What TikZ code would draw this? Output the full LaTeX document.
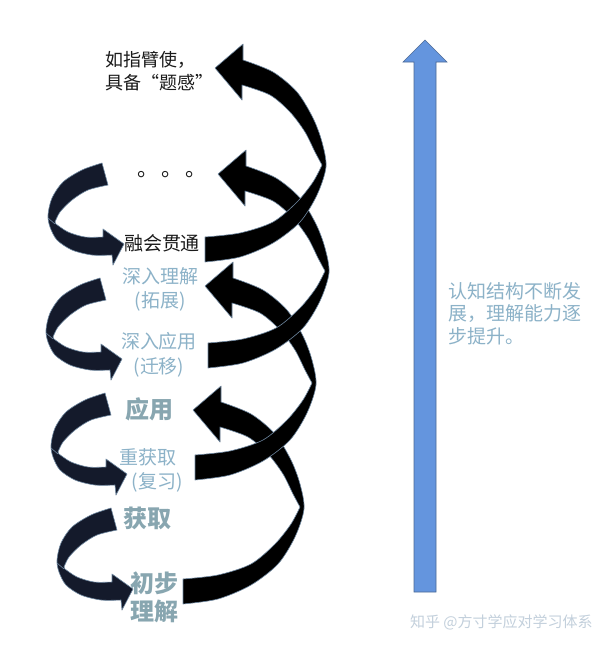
\documentclass[tikz,border=0pt]{standalone}
\usepackage{fontspec}
\newfontfamily\cjk{Noto Sans CJK SC}
\definecolor{navyfill}{RGB}{20,26,43}
\definecolor{edgecol}{RGB}{110,135,160}
\definecolor{txtblue}{RGB}{140,178,200}
\definecolor{txtteal}{RGB}{136,166,176}
\definecolor{txtdark}{RGB}{26,26,26}
\definecolor{arrowblue}{RGB}{100,149,222}
\definecolor{arrowedge}{RGB}{75,105,150}
\definecolor{wmark}{RGB}{195,208,220}
\tikzset{
  ribbonR/.style={fill=black, draw=edgecol, line width=0.6pt, line join=round},
  ribbonL/.style={fill=navyfill, draw=edgecol, line width=0.6pt, line join=round},
  foldline/.style={draw=edgecol, line width=0.6pt},
  lbl/.style={inner sep=0pt, outer sep=0pt},
  upbar/.style={fill=arrowblue, draw=arrowedge, line width=0.6pt, line join=miter}
}
\newcommand{\ribR}[2]{%
  \begin{scope}[shift={(#1,#2)}]
    \filldraw[ribbonR]
      plot[smooth] coordinates {(0,0) (35,-4) (68,-15) (92,-35) (108,-55) (117,-72)}
      -- plot[smooth] coordinates {(117,-72) (110,-85) (100,-105) (85,-125) (65,-142) (37,-152)}
      -- (37,-137) -- (10,-169) -- (38,-193)
      -- plot[smooth] coordinates {(38,-177) (68,-165) (92,-145) (108,-119) (117,-95) (121,-70) (112,-42) (95,-15) (68,6) (35,20) (0,25)}
      -- cycle;
  \end{scope}}
\newcommand{\ribL}[2]{%
  \begin{scope}[shift={(#1,#2)}]
    \filldraw[ribbonL]
      (0,0) -- (6,22)
      -- plot[smooth] coordinates {(6,22) (-14,27) (-30,37) (-42,49) (-47,59)}
      -- plot[smooth] coordinates {(-46,61) (-34,69) (-17,74) (1,74)}
      -- (1,66) -- (22,81) -- (11,102) -- (10,92)
      -- plot[smooth] coordinates {(10,92) (-10,92) (-30,87) (-45,77) (-52,64) (-54,52) (-50,35) (-39,19) (-20,7) (0,0)}
      -- cycle;
    \draw[foldline] (-54,55) -- (-47,61);
  \end{scope}}
\begin{document}
\begin{tikzpicture}[x=1pt,y=-1pt]
\useasboundingbox (0,0) rectangle (615,649);
\fill[white] (0,0) rectangle (615,649);

% rising blue arrow
\filldraw[upbar] (414,592) -- (414,62) -- (403,62) -- (425,40) -- (447,62) -- (436,62) -- (436,592) -- cycle;

% front (right) ribbons, lowest first
\ribR{183}{579}
\ribR{195}{455}
\ribR{208}{343}
\ribR{205}{237}

% back (left) ribbons
\ribL{102}{163}
\ribL{100}{278}
\ribL{105}{393}
\ribL{111}{508}

% labels
\node[lbl, anchor=north west, align=left, text=txtdark, font=\cjk\fontsize{18}{23}\selectfont] (top) at (105,51) {如指臂使，\\具备“题感”};
\node[lbl, anchor=base west, text=txtdark, font=\cjk\fontsize{21}{21}\selectfont] (d1) at (137,176) {。};
\node[lbl, anchor=base west, text=txtdark, font=\cjk\fontsize{21}{21}\selectfont] (d2) at (161,176) {。};
\node[lbl, anchor=base west, text=txtdark, font=\cjk\fontsize{21}{21}\selectfont] (d3) at (185,176) {。};
\node[lbl, text=txtdark, font=\cjk\fontsize{19}{19}\selectfont] (rh) at (162,243) {融会贯通};
\node[lbl, align=center, text=txtblue, font=\cjk\fontsize{19}{24}\selectfont] (sl) at (160,289) {深入理解\\(拓展)};
\node[lbl, align=center, text=txtblue, font=\cjk\fontsize{19}{25}\selectfont] (sy) at (159,355) {深入应用\\(迁移)};
\node[lbl, text=txtteal, font=\cjk\bfseries\fontsize{24}{24}\selectfont] (yy) at (149,409) {应用};
\node[lbl, text=txtblue, font=\cjk\fontsize{19}{19}\selectfont] (chq) at (148,457) {重获取};
\node[lbl, text=txtblue, font=\cjk\fontsize{19}{19}\selectfont] (fx) at (157,482) {(复习)};
\node[lbl, text=txtteal, font=\cjk\bfseries\fontsize{24}{24}\selectfont] (hq) at (147,518) {获取};
\node[lbl, align=center, text=txtteal, font=\cjk\bfseries\fontsize{24}{28}\selectfont] (cb) at (154,597) {初步\\理解};
\node[lbl, anchor=north west, align=left, text=txtblue, font=\cjk\fontsize{19}{22.5}\selectfont] (note) at (448,282) {认知结构不断发\\展，理解能力逐\\步提升。};
\node[lbl, anchor=west, text=wmark, font=\cjk\fontsize{15}{15}\selectfont] (wm) at (410,622) {知乎 @方寸学应对学习体系};
\end{tikzpicture}
\end{document}
